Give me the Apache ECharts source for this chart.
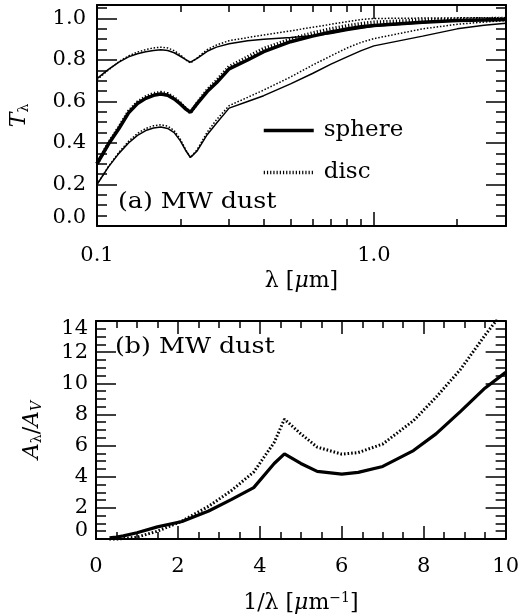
<!DOCTYPE html>
<html>
<head>
<meta charset="utf-8">
<script src="https://cdn.jsdelivr.net/npm/echarts@6/dist/echarts.min.js"></script>
</head>
<body style="margin:0">
<div id="main" style="width:522px;height:616px;"></div>
<script>
// (a) transmission vs wavelength
var lambda = [0.1, 0.11, 0.12, 0.13, 0.14, 0.15, 0.16, 0.17, 0.18, 0.19, 0.2, 0.21, 0.2175, 0.23, 0.25, 0.27,
              0.3, 0.35, 0.4, 0.5, 0.6, 0.7, 0.8, 0.9, 1.0, 1.5, 2.0, 2.5, 3.0];
var sphereHigh = [0.710, 0.755, 0.790, 0.815, 0.830, 0.840, 0.846, 0.849, 0.846, 0.835, 0.818, 0.800, 0.790, 0.808, 0.842, 0.862,
                  0.878, 0.893, 0.900, 0.908, 0.917, 0.928, 0.942, 0.953, 0.962, 0.980, 0.990, 0.994, 0.996];
var discHigh   = [0.705, 0.752, 0.792, 0.820, 0.838, 0.850, 0.858, 0.862, 0.858, 0.845, 0.825, 0.800, 0.785, 0.810, 0.850, 0.872,
                  0.893, 0.908, 0.920, 0.940, 0.958, 0.972, 0.985, 0.995, 1.000, 1.002, 1.003, 1.003, 1.003];
var sphereMid  = [0.300, 0.395, 0.470, 0.545, 0.590, 0.615, 0.630, 0.636, 0.630, 0.612, 0.588, 0.562, 0.548, 0.590, 0.648, 0.690,
                  0.757, 0.800, 0.840, 0.888, 0.915, 0.935, 0.950, 0.960, 0.966, 0.982, 0.990, 0.993, 0.995];
var discMid    = [0.300, 0.398, 0.476, 0.552, 0.597, 0.622, 0.638, 0.643, 0.637, 0.618, 0.592, 0.563, 0.546, 0.592, 0.655, 0.700,
                  0.768, 0.815, 0.855, 0.900, 0.930, 0.950, 0.965, 0.975, 0.982, 0.992, 0.997, 0.999, 1.000];
var sphereLow  = [0.200, 0.285, 0.350, 0.400, 0.437, 0.460, 0.472, 0.477, 0.470, 0.450, 0.410, 0.360, 0.330, 0.362, 0.440, 0.495,
                  0.568, 0.600, 0.628, 0.685, 0.735, 0.780, 0.815, 0.845, 0.868, 0.915, 0.950, 0.967, 0.977];
var discLow    = [0.200, 0.287, 0.355, 0.408, 0.446, 0.470, 0.483, 0.488, 0.481, 0.460, 0.418, 0.363, 0.330, 0.368, 0.452, 0.512,
                  0.580, 0.620, 0.655, 0.718, 0.775, 0.820, 0.858, 0.885, 0.903, 0.950, 0.972, 0.983, 0.990];

// (b) attenuation curve
var invLambda = [0.33, 0.5, 0.67, 1.0, 1.5, 2.1, 2.75, 3.3, 3.85, 4.35, 4.6, 5.0, 5.4, 6.0, 6.4, 7.0, 7.75, 8.3, 8.9, 9.5, 10.0];
var extSphere = [0.08, 0.13, 0.20, 0.40, 0.78, 1.12, 1.80, 2.53, 3.30, 4.85, 5.47, 4.85, 4.34, 4.17, 4.28, 4.66, 5.68, 6.75, 8.20, 9.70, 10.70];
var extDisc   = [-0.15, -0.05, 0.03, 0.12, 0.50, 1.15, 2.10, 3.10, 4.30, 6.20, 7.70, 6.75, 5.90, 5.45, 5.55, 6.10, 7.60, 9.10, 10.90, 13.10, 14.80];

// tick values
var lamMinor = [0.2, 0.3, 0.4, 0.5, 0.6, 0.7, 0.8, 0.9, 2, 3];
var tMajor = [0, 0.2, 0.4, 0.6, 0.8, 1.0];
var tMinor = [0.05, 0.1, 0.15, 0.25, 0.3, 0.35, 0.45, 0.5, 0.55, 0.65, 0.7, 0.75, 0.85, 0.9, 0.95, 1.05];

var FONT = 'DejaVu Serif';
var black = '#000';

function pairs(xs, ys) {
  return xs.map(function (x, i) { return [x, ys[i]]; });
}

var tickLine = { color: black, width: 1.5 };
var frame = { show: true, onZero: false, lineStyle: { color: black, width: 2 } };
var hidden = { show: false, onZero: false };
var noLabel = { show: false };
var labelStyle = { color: black, fontFamily: FONT, fontSize: 21, lineHeight: 16 };

var nameRich = {
  i: { fontFamily: FONT, fontSize: 22, fontStyle: 'italic', color: black },
  s: { fontFamily: FONT, fontSize: 14, color: black, verticalAlign: 'bottom', padding: [10, 0, 0, 0] },
  si: { fontFamily: FONT, fontSize: 14, fontStyle: 'italic', color: black, verticalAlign: 'bottom', padding: [10, 0, 0, 0] },
  sup: { fontFamily: FONT, fontSize: 14, color: black, verticalAlign: 'top', padding: [0, 0, 10, 0] }
};
var nameStyle = { fontFamily: FONT, fontSize: 22, color: black, rich: nameRich };

var lmin = Math.log10(0.1), lmax = Math.log10(3);

var option = {
  animation: false,
  backgroundColor: '#fff',
  grid: [
    { left: 96, top: 5, width: 410, height: 221 },
    { left: 96, top: 321, width: 410, height: 218 }
  ],
  xAxis: [
    { gridIndex: 0, type: 'log', position: 'bottom', min: 0.1, max: 3, axisLine: frame,
      axisTick: { inside: true, length: 14, lineStyle: tickLine },
      axisLabel: Object.assign({ margin: 22, showMaxLabel: false,
        formatter: function (v) { return Number(v).toFixed(1); } }, labelStyle),
      splitLine: { show: false },
      name: 'λ [{i|μ}m]', nameLocation: 'middle', nameGap: 44, nameTextStyle: nameStyle },
    { gridIndex: 0, type: 'log', position: 'top', min: 0.1, max: 3, axisLine: frame,
      axisTick: { inside: true, length: 14, lineStyle: tickLine }, axisLabel: noLabel, splitLine: { show: false } },
    { gridIndex: 0, type: 'value', position: 'bottom', min: lmin, max: lmax, axisLine: hidden,
      axisTick: { inside: true, length: 7, lineStyle: tickLine, customValues: lamMinor.map(Math.log10) },
      axisLabel: noLabel, splitLine: { show: false } },
    { gridIndex: 0, type: 'value', position: 'top', min: lmin, max: lmax, axisLine: hidden,
      axisTick: { inside: true, length: 7, lineStyle: tickLine, customValues: lamMinor.map(Math.log10) },
      axisLabel: noLabel, splitLine: { show: false } },
    { gridIndex: 1, type: 'value', position: 'bottom', min: 0, max: 10, interval: 2, axisLine: frame,
      axisTick: { inside: true, length: 13, lineStyle: tickLine },
      minorTick: { show: true, splitNumber: 4, length: 7, lineStyle: tickLine },
      axisLabel: Object.assign({ margin: 20, showMinLabel: true, showMaxLabel: true }, labelStyle), splitLine: { show: false },
      name: '1/λ [{i|μ}m{sup|−1}]', nameLocation: 'middle', nameGap: 52, nameTextStyle: nameStyle },
    { gridIndex: 1, type: 'value', position: 'top', min: 0, max: 10, interval: 2, axisLine: frame,
      axisTick: { inside: true, length: 13, lineStyle: tickLine },
      minorTick: { show: true, splitNumber: 4, length: 7, lineStyle: tickLine },
      axisLabel: noLabel, splitLine: { show: false } }
  ],
  yAxis: [
    { gridIndex: 0, type: 'value', position: 'left', min: 0, max: 1.065, axisLine: frame,
      axisTick: { inside: true, length: 20, lineStyle: tickLine, customValues: tMajor },
      axisLabel: Object.assign({ margin: 11, customValues: tMajor, verticalAlignMinLabel: 'bottom',
        formatter: function (v) { return Number(v).toFixed(1); } }, labelStyle),
      splitLine: { show: false },
      name: '{i|T}{s|λ}', nameLocation: 'middle', nameGap: 66, nameRotate: 90, nameTextStyle: nameStyle },
    { gridIndex: 0, type: 'value', position: 'right', min: 0, max: 1.065, axisLine: frame,
      axisTick: { inside: true, length: 20, lineStyle: tickLine, customValues: tMajor },
      axisLabel: noLabel, splitLine: { show: false } },
    { gridIndex: 0, type: 'value', position: 'left', min: 0, max: 1.065, axisLine: hidden,
      axisTick: { inside: true, length: 10, lineStyle: tickLine, customValues: tMinor },
      axisLabel: noLabel, splitLine: { show: false } },
    { gridIndex: 0, type: 'value', position: 'right', min: 0, max: 1.065, axisLine: hidden,
      axisTick: { inside: true, length: 10, lineStyle: tickLine, customValues: tMinor },
      axisLabel: noLabel, splitLine: { show: false } },
    { gridIndex: 1, type: 'value', position: 'left', min: 0, max: 14, interval: 2, axisLine: frame,
      axisTick: { inside: true, length: 20, lineStyle: tickLine },
      minorTick: { show: true, splitNumber: 4, length: 10, lineStyle: tickLine },
      axisLabel: Object.assign({ margin: 8, showMinLabel: true, showMaxLabel: true,
        verticalAlignMinLabel: 'bottom', verticalAlignMaxLabel: 'top' }, labelStyle),
      splitLine: { show: false },
      name: '{i|A}{s|λ}/{i|A}{si|V}', nameLocation: 'middle', nameGap: 52, nameRotate: 90, nameTextStyle: nameStyle },
    { gridIndex: 1, type: 'value', position: 'right', min: 0, max: 14, interval: 2, axisLine: frame,
      axisTick: { inside: true, length: 20, lineStyle: tickLine },
      minorTick: { show: true, splitNumber: 4, length: 10, lineStyle: tickLine },
      axisLabel: noLabel, splitLine: { show: false } }
  ],
  legend: {
    orient: 'vertical', left: 262, top: 119, padding: 0,
    itemWidth: 50, itemHeight: 20, itemGap: 19, selectedMode: false,
    data: ['sphere', 'disc'],
    lineStyle: { width: 'inherit' },
    itemStyle: { color: 'rgba(0,0,0,0)', borderColor: 'rgba(0,0,0,0)', borderWidth: 0 },
    textStyle: { fontFamily: FONT, fontSize: 23, color: black, padding: [0, 0, 0, 5] }
  },
  graphic: [
    { type: 'text', left: 118, top: 191, scaleX: 1.15,
      style: { text: '(a) MW dust', font: '22px "DejaVu Serif"', fill: black } },
    { type: 'text', left: 115, top: 336, scaleX: 1.15,
      style: { text: '(b) MW dust', font: '22px "DejaVu Serif"', fill: black } }
  ],
  series: [
    { name: 'disc high', type: 'line', xAxisIndex: 0, yAxisIndex: 0, symbol: 'none', data: pairs(lambda, discHigh),
      lineStyle: { color: black, width: 1.5, type: [1.5, 1.8] } },
    { name: 'disc', type: 'line', xAxisIndex: 0, yAxisIndex: 0, symbol: 'none', data: pairs(lambda, discMid),
      itemStyle: { color: 'rgba(0,0,0,0)' },
      lineStyle: { color: black, width: 3.5, type: [1.2, 2] } },
    { name: 'disc low', type: 'line', xAxisIndex: 0, yAxisIndex: 0, symbol: 'none', data: pairs(lambda, discLow),
      lineStyle: { color: black, width: 1.5, type: [1.5, 1.8] } },
    { name: 'sphere high', type: 'line', xAxisIndex: 0, yAxisIndex: 0, symbol: 'none', data: pairs(lambda, sphereHigh),
      lineStyle: { color: black, width: 1.5 } },
    { name: 'sphere', type: 'line', xAxisIndex: 0, yAxisIndex: 0, symbol: 'none', data: pairs(lambda, sphereMid),
      itemStyle: { color: 'rgba(0,0,0,0)' },
      lineStyle: { color: black, width: 3.5 } },
    { name: 'sphere low', type: 'line', xAxisIndex: 0, yAxisIndex: 0, symbol: 'none', data: pairs(lambda, sphereLow),
      lineStyle: { color: black, width: 1.5 } },
    { name: 'disc b', type: 'line', xAxisIndex: 4, yAxisIndex: 4, symbol: 'none', data: pairs(invLambda, extDisc),
      lineStyle: { color: black, width: 3, type: [1.6, 2] } },
    { name: 'sphere b', type: 'line', xAxisIndex: 4, yAxisIndex: 4, symbol: 'none', data: pairs(invLambda, extSphere),
      lineStyle: { color: black, width: 3.2 } }
  ]
};

var chart = echarts.init(document.getElementById('main'));
chart.setOption(option);
</script>
</body>
</html>
